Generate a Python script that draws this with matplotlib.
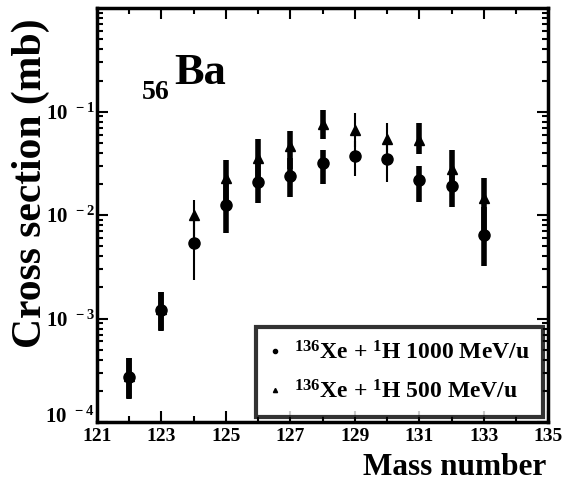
import numpy as np
import matplotlib
matplotlib.use("Agg")
import matplotlib.pyplot as plt
import matplotlib.transforms as mtransforms
from matplotlib.lines import Line2D
from matplotlib.ticker import LogLocator, MultipleLocator

plt.rcParams['font.family'] = ['Liberation Serif', 'DejaVu Serif']
plt.rcParams['font.weight'] = 'bold'
plt.rcParams['mathtext.fontset'] = 'custom'
plt.rcParams['mathtext.rm'] = 'Liberation Serif:bold'
plt.rcParams['mathtext.it'] = 'Liberation Serif:bold'
plt.rcParams['mathtext.bf'] = 'Liberation Serif:bold'

# data
mass = [122, 123, 124, 125, 126, 127, 128, 129, 130, 131, 132, 133]

xs_1000 = [2.7e-4, 1.2e-3, 5.4e-3, 1.25e-2, 2.1e-2, 2.4e-2, 3.2e-2, 3.7e-2, 3.5e-2, 2.2e-2, 1.9e-2, 6.4e-3]
lo_1000 = [1.65e-4, 7.5e-4, 2.35e-3, 6.7e-3, 1.3e-2, 1.5e-2, 2.0e-2, 2.4e-2, 2.1e-2, 1.34e-2, 1.2e-2, 3.2e-3]
hi_1000 = [4.2e-4, 1.8e-3, 1.0e-2, 2.0e-2, 3.2e-2, 3.6e-2, 4.3e-2, 5.2e-2, 4.8e-2, 3.0e-2, 2.8e-2, 1.2e-2]

xs_500 = [2.8e-4, 1.25e-3, 1.0e-2, 2.3e-2, 3.6e-2, 4.7e-2, 7.6e-2, 6.6e-2, 5.5e-2, 5.3e-2, 2.8e-2, 1.45e-2]
lo_500 = [1.7e-4, 7.8e-4, 5.4e-3, 1.3e-2, 2.2e-2, 2.8e-2, 5.5e-2, 4.6e-2, 4.0e-2, 3.9e-2, 1.9e-2, 7.0e-3]
hi_500 = [4.2e-4, 1.8e-3, 1.4e-2, 3.4e-2, 5.5e-2, 6.5e-2, 1.03e-1, 9.7e-2, 7.7e-2, 7.7e-2, 4.3e-2, 2.3e-2]

yticks = [1e-4, 1e-3, 1e-2, 1e-1]
ytick_labels = [r'$10^{\ \,-4}$', r'$10^{\ \,-3}$', r'$10^{\ \,-2}$', r'$10^{\ \,-1}$']
labels = [r'$^{136}$Xe + $^{1}$H 1000 MeV/u', r'$^{136}$Xe + $^{1}$H 500 MeV/u']

thin = [124, 129, 130]
w = [1.5 if m in thin else 4.0 for m in mass]

fig = plt.figure(figsize=(5.64, 4.82), dpi=100)
ax = fig.add_axes([0.172, 0.1245, 0.8, 0.8585])

ax.vlines(mass, lo_1000, hi_1000, colors='black', linewidths=w)
ax.vlines(mass, lo_500, hi_500, colors='black', linewidths=w)
ax.plot(mass, xs_1000, 'o', color='black', ms=8, ls='none')
ax.plot(mass, xs_500, '^', color='black', ms=7, ls='none')

ax.set_yscale('log')
ax.set_xlim(121, 135)
ax.set_ylim(1e-4, 1)
ax.set_xticks(range(121, 136, 2))
ax.xaxis.set_minor_locator(MultipleLocator(1))
ax.set_yticks(yticks)
ax.set_yticklabels(ytick_labels)
ax.yaxis.set_minor_locator(LogLocator(base=10, subs=np.arange(2, 10), numticks=10))
ax.tick_params(which='both', direction='in', top=True, right=True, width=1.5)
ax.tick_params(which='major', length=8)
ax.tick_params(axis='x', which='major', labelsize=14, pad=4)
ax.tick_params(axis='y', which='major', labelsize=15, pad=1.5)
ax.tick_params(which='minor', length=4)
for s in ax.spines.values():
    s.set_linewidth(2.5)

# lift the lowest y label a little so it clears "121"
lab0 = ax.get_yticklabels()[0]
lab0.set_transform(lab0.get_transform() + mtransforms.ScaledTranslation(0, 5 / 72, fig.dpi_scale_trans))

ax.set_ylabel('Cross section (mb)', fontsize=30, fontweight='bold')
ax.yaxis.set_label_coords(-0.105, 0.577)
ax.set_xlabel('Mass number', fontsize=22.5, fontweight='bold')
ax.xaxis.set_label_coords(0.995, -0.128)
ax.xaxis.label.set_horizontalalignment('right')
ax.xaxis.label.set_verticalalignment('baseline')

ax.text(0.1, 0.78, '56', transform=ax.transAxes, fontsize=20, fontweight='bold')
ax.text(0.172, 0.818, 'Ba', transform=ax.transAxes, fontsize=32, fontweight='bold')

handles = [Line2D([], [], marker='o', color='black', ls='none', ms=3),
           Line2D([], [], marker='^', color='black', ls='none', ms=3)]
leg = ax.legend(handles, labels, loc='lower right', fontsize=17, frameon=True,
                fancybox=False, edgecolor='black', handlelength=0.4, handletextpad=0.6,
                borderaxespad=0.2, borderpad=0.6, labelspacing=0.65)
leg.get_frame().set_linewidth(3)

fig.savefig('out.png', dpi=100)
